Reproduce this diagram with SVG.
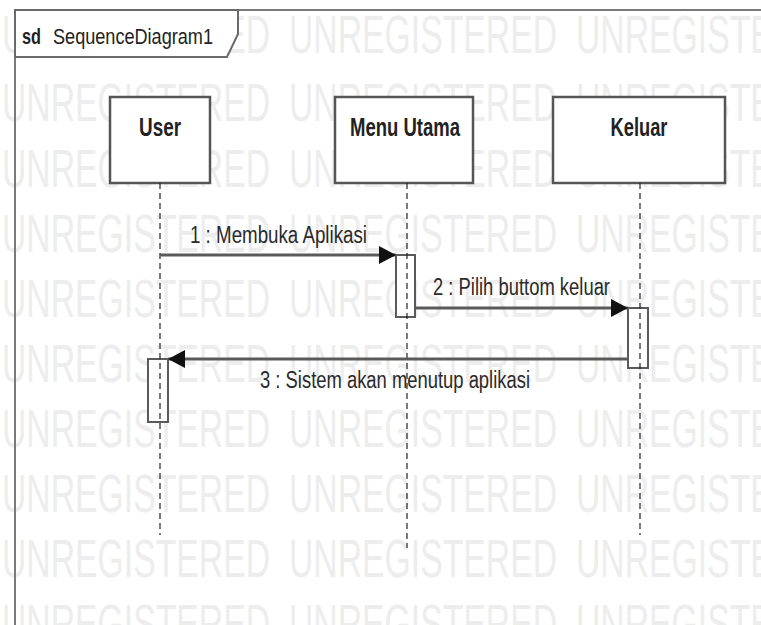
<svg xmlns="http://www.w3.org/2000/svg" width="761" height="625" viewBox="0 0 761 625">
  <style>
    text { font-family: "Liberation Sans", Arial, sans-serif; }
    .wm { font-size: 53px; fill: #ededed; }
    .frame { fill: none; stroke: #7a7a7a; stroke-width: 2; }
    .tab { fill: #ffffff; stroke: #6a6a6a; stroke-width: 2; }
    .box { fill: #ffffff; stroke: #555555; stroke-width: 2.5; }
    .act { fill: #ffffff; stroke: #5a5a5a; stroke-width: 2; }
    .life { stroke: #222222; stroke-width: 1.2; stroke-dasharray: 6 4; fill: none; }
    .msg { stroke: #5a5a5a; stroke-width: 3; fill: none; marker-end: url(#arrow); }
    .name { font-size: 26px; font-weight: bold; fill: #222222; }
    .lbl { font-size: 23px; fill: #2a2a2a; }
    .title { font-size: 22px; fill: #222222; }
  </style>
  <defs>
    <marker id="arrow" markerUnits="userSpaceOnUse" markerWidth="17" markerHeight="18" refX="17" refY="9" orient="auto">
      <path d="M0,0 L17,9 L0,18 z" fill="#111111"/>
    </marker>
    <g id="wmrow">
      <text class="wm" x="2" textLength="268" lengthAdjust="spacingAndGlyphs">UNREGISTERED</text>
      <text class="wm" x="289" textLength="268" lengthAdjust="spacingAndGlyphs">UNREGISTERED</text>
      <text class="wm" x="576" textLength="268" lengthAdjust="spacingAndGlyphs">UNREGISTERED</text>
    </g>
  </defs>

  <rect width="761" height="625" fill="#ffffff"/>

  <!-- background watermark rows -->
  <g id="watermark">
    <use href="#wmrow" y="53"/>
    <use href="#wmrow" y="121"/>
    <use href="#wmrow" y="187"/>
    <use href="#wmrow" y="252"/>
    <use href="#wmrow" y="317"/>
    <use href="#wmrow" y="382"/>
    <use href="#wmrow" y="447"/>
    <use href="#wmrow" y="512"/>
    <use href="#wmrow" y="577"/>
    <use href="#wmrow" y="642"/>
  </g>

  <!-- sequence frame with name tab -->
  <g id="frame">
    <path class="frame" d="M15,625 V10 H761"/>
    <path class="tab" d="M15,10 H238 V34 L227,57 H15 Z"/>
    <text class="title" x="22" y="44" textLength="19" lengthAdjust="spacingAndGlyphs" font-weight="bold">sd</text>
    <text class="title" x="53" y="44" textLength="160" lengthAdjust="spacingAndGlyphs">SequenceDiagram1</text>
  </g>

  <!-- lifeline heads -->
  <g id="user">
    <rect class="box" x="110" y="97" width="100" height="86"/>
    <text class="name" x="160" y="136" text-anchor="middle" textLength="42" lengthAdjust="spacingAndGlyphs">User</text>
  </g>
  <g id="menu-utama">
    <rect class="box" x="335" y="97" width="138" height="86"/>
    <text class="name" x="405" y="136" text-anchor="middle" textLength="110" lengthAdjust="spacingAndGlyphs">Menu Utama</text>
  </g>
  <g id="keluar">
    <rect class="box" x="553" y="97" width="172" height="86"/>
    <text class="name" x="639" y="136" text-anchor="middle" textLength="57" lengthAdjust="spacingAndGlyphs">Keluar</text>
  </g>

  <!-- activation bars -->
  <g id="activations">
    <rect class="act" x="396" y="255" width="19" height="62"/>
    <rect class="act" x="628" y="308" width="20" height="60"/>
    <rect class="act" x="148" y="359" width="20" height="63"/>
  </g>

  <!-- lifelines and messages -->
  <g id="connectors">
    <line class="life" x1="160" y1="183" x2="160" y2="535"/>
    <line class="life" x1="407" y1="183" x2="407" y2="548"/>
    <line class="life" x1="640" y1="183" x2="640" y2="535"/>

    <line class="msg" x1="160" y1="255" x2="396" y2="255"/>
    <text class="lbl" x="190" y="243" textLength="177" lengthAdjust="spacingAndGlyphs">1 : Membuka Aplikasi</text>

    <line class="msg" x1="415" y1="308" x2="628" y2="308"/>
    <text class="lbl" x="433" y="295" textLength="177" lengthAdjust="spacingAndGlyphs">2 : Pilih buttom keluar</text>

    <line class="msg" x1="628" y1="359" x2="168" y2="359"/>
    <text class="lbl" x="260" y="388" textLength="270" lengthAdjust="spacingAndGlyphs">3 : Sistem akan menutup aplikasi</text>
  </g>
</svg>
